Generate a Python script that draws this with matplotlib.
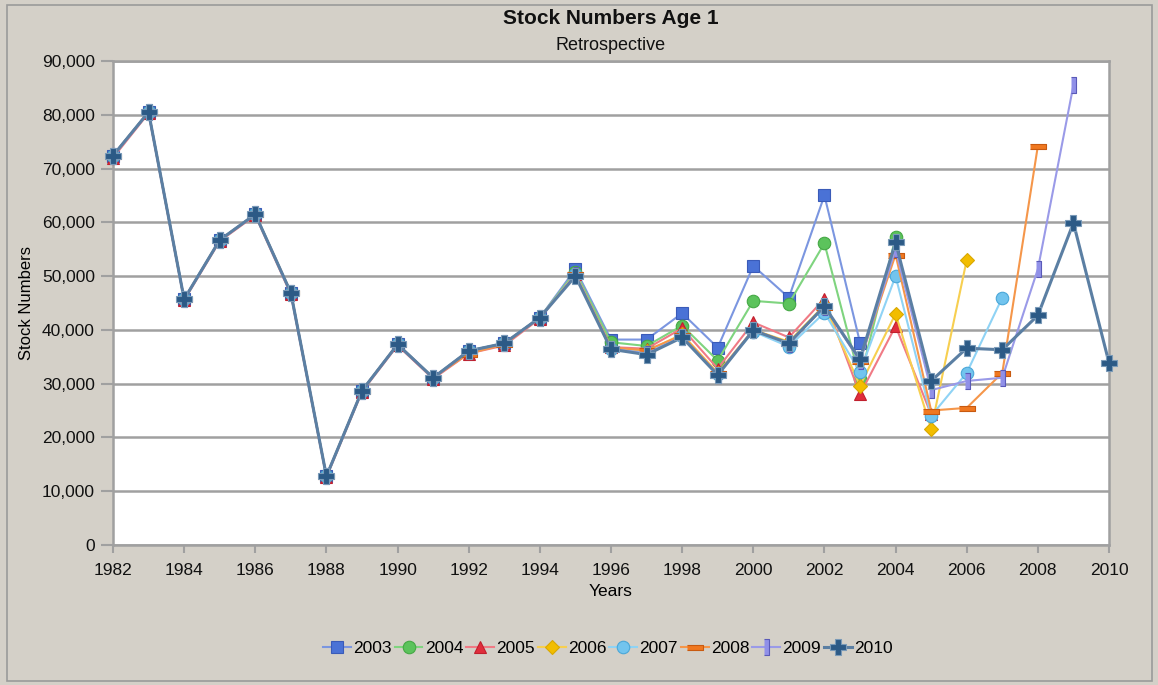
import numpy as np
import matplotlib.pyplot as plt
from matplotlib.patches import Rectangle
from matplotlib.ticker import FuncFormatter

plt.rcParams['font.family'] = ['Liberation Sans', 'DejaVu Sans']

# shared history 1982-1994
BASE = [72400, 80500, 45700, 56700, 61500, 46900, 12800, 28700, 37300, 31100, 36100, 37500, 42300]

s2003 = BASE + [51300, 38200, 38200, 43100, 36700, 51900, 46000, 65000, 37650]
s2004 = BASE + [50800, 37700, 37000, 40800, 34300, 45400, 44900, 56100, 30800, 57200]
s2005 = [72000, 80300, 45500, 56500, 61300, 46600, 12600, 28500, 37100, 30900, 35600, 37100, 42100,
         50400, 36800, 36500, 40300, 32800, 41400, 38600, 45800, 28000, 40700, 24300]
s2006 = BASE + [50300, 36600, 36000, 39200, 32000, 40000, 37800, 44600, 29600, 43000, 21600, 53000]
s2007 = BASE + [50300, 36400, 35800, 38800, 31800, 39700, 36900, 43200, 32200, 50000, 24000, 32000, 46000]
s2008 = [72400, 80500, 45700, 56700, 61500, 47000, 12800, 28700, 37300, 31100, 35600, 37300, 42300,
         50300, 36700, 36200, 39000, 31900, 40000, 37600, 44300, 34300, 54000, 25000, 25500, 32000, 74200]
s2009 = BASE + [50200, 36500, 35600, 38700, 31700, 40000, 37400, 44300, 34200, 55000, 28800, 30500,
                31100, 51300, 85500]
s2010 = BASE + [50000, 36400, 35400, 38600, 31600, 39900, 37500, 44400, 34500, 56300, 30500, 36600,
                36300, 42700, 59900, 33900]

series = {
    "2003": s2003, "2004": s2004, "2005": s2005, "2006": s2006,
    "2007": s2007, "2008": s2008, "2009": s2009, "2010": s2010,
}

# flat and tall bars for the 2008 / 2009 markers
hbar = [(-0.5, -0.15), (0.5, -0.15), (0.5, 0.15), (-0.5, 0.15)]
vbar = [(-0.15, -0.5), (0.15, -0.5), (0.15, 0.5), (-0.15, 0.5)]

# line colour, marker, marker face, marker edge, marker size
styles = {
    "2003": ("#7b96e0", "s", "#4a72d6", "#3a5bb8", 9),
    "2004": ("#7fd47f", "o", "#5cc35c", "#45a845", 9),
    "2005": ("#f07a85", "^", "#e02d3c", "#c0202e", 9),
    "2006": ("#f7cf50", "D", "#f2bd00", "#d9a800", 7),
    "2007": ("#8fd3f5", "o", "#72c4ee", "#4aa7d8", 9),
    "2008": ("#f5964a", hbar, "#f07820", "#c85a10", 12),
    "2009": ("#9a9ae8", vbar, "#9090e8", "#5a5ab8", 12),
    "2010": ("#5b7fa3", "P", "#2c5a86", "#7a9ab8", 12),
}

fig = plt.figure(figsize=(11.58, 6.85), dpi=100, facecolor="#d4d0c8")
fig.patches.append(Rectangle((7 / 1158, 4 / 685), 1145 / 1158, 676 / 685, transform=fig.transFigure,
                             fill=False, edgecolor="#9a9a9a", linewidth=1.2))
ax = fig.add_axes([113 / 1158, 140 / 685, 996 / 1158, 484 / 685])
ax.set_facecolor("white")

for name, vals in series.items():
    lc, mk, mf, me, ms = styles[name]
    yrs = np.arange(1982, 1982 + len(vals))
    lw = 2.2 if name == "2010" else 1.5
    ax.plot(yrs, vals, color=lc, lw=lw, marker=mk, ms=ms, mfc=mf, mec=me, mew=0.8,
            label=name, zorder=3, clip_on=False)

ax.set_xlim(1982, 2010)
ax.set_ylim(0, 90000)
ax.set_xticks(np.arange(1982, 2011, 2))
ax.set_yticks(np.arange(0, 90001, 10000))
ax.yaxis.set_major_formatter(FuncFormatter(lambda v, p: f"{int(v):,}"))
ax.grid(axis="y", color="#a0a0a0", lw=1.8)
ax.set_axisbelow(True)
for sp in ax.spines.values():
    sp.set_color("#a0a0a0")
    sp.set_linewidth(1.8)
ax.tick_params(axis="both", colors="#a0a0a0", labelcolor="#111111", labelsize=12.5)
ax.tick_params(axis="y", length=9, width=1.5, pad=4)
ax.tick_params(axis="x", length=6, width=1.5, pad=7)

ax.set_xlabel("Years", fontsize=12.5, labelpad=4)
ax.set_ylabel("Stock Numbers", fontsize=12, labelpad=6)

cx = 611 / 1158
fig.text(cx, 1 - 19 / 685, "Stock Numbers Age 1", ha="center", va="center", fontsize=15,
         fontweight="bold", color="#111111")
fig.text(cx, 1 - 46 / 685, "Retrospective", ha="center", va="center", fontsize=13, color="#111111")

handles, labels = ax.get_legend_handles_labels()
fig.legend(handles, labels, loc="center", bbox_to_anchor=(608 / 1158, 1 - 648 / 685), ncol=8,
           frameon=False, fontsize=12.5, numpoints=1, handlelength=1.6, handletextpad=0.15,
           columnspacing=0.15, borderpad=0)

fig.savefig("out.png", dpi=100, facecolor=fig.get_facecolor())
